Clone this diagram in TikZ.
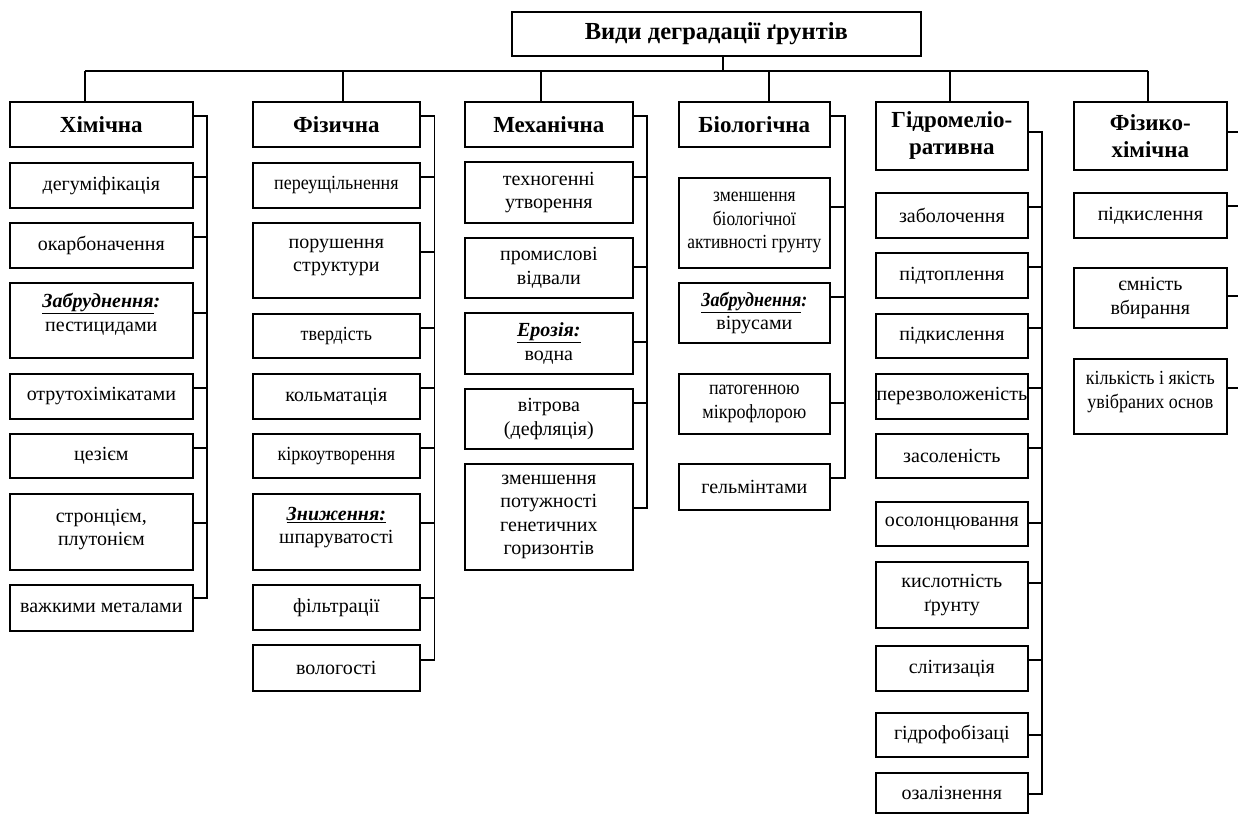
\documentclass[tikz,border=0pt]{standalone}
\usepackage{fontspec}
\setmainfont{Liberation Serif}
\newfontfamily\cond[FakeStretch=0.9]{Liberation Serif}
\newfontfamily\condb[FakeStretch=0.87]{Liberation Serif}
\newcommand\uln[1]{\underline{\textbf{\textit{#1}}}}
\tikzset{
  bx/.style={draw, line width=1.7pt, anchor=north west, inner sep=0pt, align=center,
    font=\fontsize{20}{23.5}\selectfont},
  cat/.style={bx, font=\fontsize{23}{27}\selectfont\bfseries},
  ttl/.style={bx, font=\fontsize{24.5}{28}\selectfont\bfseries},
  ln/.style={line width=1.7pt},
}
\begin{document}
\begin{tikzpicture}[x=1pt,y=-1pt]
\useasboundingbox (0,0) rectangle (1238,816);
% top
\node[ttl, minimum width=409, minimum height=44] (top) at (511,11) {Види деградації ґрунтів};
\coordinate (bus) at (0,71);
% categories
\node[cat, minimum width=183, minimum height=45] (c1) at (9,101) {Хімічна};
\node[cat, minimum width=167, minimum height=45] (c2) at (252,101) {Фізична};
\node[cat, minimum width=168, minimum height=45] (c3) at (464,101) {Механічна};
\node[cat, minimum width=151, minimum height=45] (c4) at (678,101) {Біологічна};
\node[cat, minimum width=152, minimum height=68] (c5) at (875,101) {Гідромеліо-\\ративна};
\node[cat, minimum width=153, minimum height=68] (c6) at (1073,101) {Фізико-\\хімічна};
% bus
\draw[ln] (top.south -| 723,0) -- (723,71);
\draw[ln] (85,71) -- (1148,71);
\draw[ln] (bus -| 85,0) -- (c1.north -| 85,0);
\draw[ln] (bus -| 343,0) -- (c2.north -| 343,0);
\draw[ln] (bus -| 541,0) -- (c3.north -| 541,0);
\draw[ln] (bus -| 769,0) -- (c4.north -| 769,0);
\draw[ln] (bus -| 950,0) -- (c5.north -| 950,0);
\draw[ln] (bus -| 1148,0) -- (c6.north -| 1148,0);
% column 1
\coordinate (T1) at (207,0);
\node[bx, minimum width=183, minimum height=45] (a1) at (9,162) {дегуміфікація};
\node[bx, minimum width=183, minimum height=45] (a2) at (9,222) {окарбоначення};
\node[bx, minimum width=183, minimum height=75] (a3) at (9,282) {\uln{Забруднення}\textbf{\textit{:}}\\пестицидами\\[-7pt]};
\node[bx, minimum width=183, minimum height=45] (a4) at (9,373) {отрутохімікатами};
\node[bx, minimum width=183, minimum height=44] (a5) at (9,433) {цезієм};
\node[bx, minimum width=183, minimum height=76] (a6) at (9,493) {стронцієм,\\плутонієм\\[-15pt]};
\node[bx, minimum width=183, minimum height=46] (a7) at (9,584) {важкими металами};
\draw[ln] (c1.east |- 0,116) -| (T1 |- 0,598) -- (a7.east |- 0,598);
\draw[ln] (a1.east |- 0,177) -- (T1 |- 0,177);
\draw[ln] (a2.east |- 0,237) -- (T1 |- 0,237);
\draw[ln] (a3.east |- 0,313) -- (T1 |- 0,313);
\draw[ln] (a4.east |- 0,388) -- (T1 |- 0,388);
\draw[ln] (a5.east |- 0,448) -- (T1 |- 0,448);
\draw[ln] (a6.east |- 0,523) -- (T1 |- 0,523);
% column 2
\coordinate (T2) at (434.5,0);
\node[bx, minimum width=167, minimum height=45] (b1) at (252,162) {{\cond переущільнення}};
\node[bx, minimum width=167, minimum height=75] (b2) at (252,222) {порушення\\структури\\[-13pt]};
\node[bx, minimum width=167, minimum height=44] (b3) at (252,313) {{\cond твердість}};
\node[bx, minimum width=167, minimum height=45] (b4) at (252,373) {кольматація};
\node[bx, minimum width=167, minimum height=44] (b5) at (252,433) {{\cond кіркоутворення}};
\node[bx, minimum width=167, minimum height=76] (b6) at (252,493) {\uln{Зниження:}\\шпаруватості\\[-11pt]};
\node[bx, minimum width=167, minimum height=45] (b7) at (252,584) {фільтрації};
\node[bx, minimum width=167, minimum height=46] (b8) at (252,644) {вологості};
\draw[ln] (c2.east |- 0,116) -| (T2 |- 0,660) -- (b8.east |- 0,660);
\draw[ln] (b1.east |- 0,177) -- (T2 |- 0,177);
\draw[ln] (b2.east |- 0,252) -- (T2 |- 0,252);
\draw[ln] (b3.east |- 0,328) -- (T2 |- 0,328);
\draw[ln] (b4.east |- 0,388) -- (T2 |- 0,388);
\draw[ln] (b5.east |- 0,448) -- (T2 |- 0,448);
\draw[ln] (b6.east |- 0,523) -- (T2 |- 0,523);
\draw[ln] (b7.east |- 0,598) -- (T2 |- 0,598);
% column 3
\coordinate (T3) at (647,0);
\node[bx, minimum width=168, minimum height=61] (m1) at (464,161) {техногенні\\утворення};
\node[bx, minimum width=168, minimum height=60] (m2) at (464,237) {промислові\\відвали};
\node[bx, minimum width=168, minimum height=61] (m3) at (464,312) {\uln{Ерозія:}\\водна};
\node[bx, minimum width=168, minimum height=60] (m4) at (464,388) {вітрова\\(дефляція)};
\node[bx, minimum width=168, minimum height=106] (m5) at (464,463) {зменшення\\потужності\\генетичних\\горизонтів};
\draw[ln] (c3.east |- 0,116) -| (T3 |- 0,508) -- (m5.east |- 0,508);
\draw[ln] (m1.east |- 0,177) -- (T3 |- 0,177);
\draw[ln] (m2.east |- 0,267) -- (T3 |- 0,267);
\draw[ln] (m3.east |- 0,342) -- (T3 |- 0,342);
\draw[ln] (m4.east |- 0,403) -- (T3 |- 0,403);
% column 4
\coordinate (T4) at (845,0);
\node[bx, minimum width=151, minimum height=90] (d1) at (678,177) {\condb зменшення\\\condb біологічної\\\condb активності грунту};
\node[bx, minimum width=151, minimum height=60] (d2) at (678,282) {{\cond\uln{Забруднення}\textbf{\textit{:}}}\\вірусами};
\node[bx, minimum width=151, minimum height=60] (d3) at (678,373) {\cond патогенною\\\cond мікрофлорою};
\node[bx, minimum width=151, minimum height=46] (d4) at (678,463) {гельмінтами};
\draw[ln] (c4.east |- 0,116) -| (T4 |- 0,478) -- (d4.east |- 0,478);
\draw[ln] (d1.east |- 0,207) -- (T4 |- 0,207);
\draw[ln] (d2.east |- 0,297) -- (T4 |- 0,297);
\draw[ln] (d3.east |- 0,403) -- (T4 |- 0,403);
% column 5
\coordinate (T5) at (1042,0);
\node[bx, minimum width=152, minimum height=45] (e1) at (875,192) {заболочення};
\node[bx, minimum width=152, minimum height=45] (e2) at (875,252) {підтоплення};
\node[bx, minimum width=152, minimum height=44] (e3) at (875,313) {підкислення};
\node[bx, minimum width=152, minimum height=45] (e4) at (875,373) {перезволоженість};
\node[bx, minimum width=152, minimum height=44] (e5) at (875,433) {засоленість};
\node[bx, minimum width=152, minimum height=44] (e6) at (875,501) {осолонцювання};
\node[bx, minimum width=152, minimum height=66] (e7) at (875,561) {кислотність\\ґрунту};
\node[bx, minimum width=152, minimum height=45] (e8) at (875,645) {слітизація};
\node[bx, minimum width=152, minimum height=44] (e9) at (875,712) {гідрофобізаці};
\node[bx, minimum width=152, minimum height=40] (e10) at (875,772) {озалізнення};
\draw[ln] (c5.east |- 0,132) -| (T5 |- 0,794) -- (e10.east |- 0,794);
\draw[ln] (e1.east |- 0,207) -- (T5 |- 0,207);
\draw[ln] (e2.east |- 0,267) -- (T5 |- 0,267);
\draw[ln] (e3.east |- 0,328) -- (T5 |- 0,328);
\draw[ln] (e4.east |- 0,388) -- (T5 |- 0,388);
\draw[ln] (e5.east |- 0,448) -- (T5 |- 0,448);
\draw[ln] (e6.east |- 0,523) -- (T5 |- 0,523);
\draw[ln] (e7.east |- 0,583) -- (T5 |- 0,583);
\draw[ln] (e8.east |- 0,660) -- (T5 |- 0,660);
\draw[ln] (e9.east |- 0,735) -- (T5 |- 0,735);
% column 6
\coordinate (T6) at (1245,0);
\node[bx, minimum width=153, minimum height=45] (f1) at (1073,192) {підкислення};
\node[bx, minimum width=153, minimum height=60] (f2) at (1073,267) {ємність\\вбирання};
\node[bx, minimum width=153, minimum height=75] (f3) at (1073,358) {{\cond кількість і якість}\\{\cond увібраних основ}\\[-11pt]};
\draw[ln] (c6.east |- 0,132) -- (T6 |- 0,132);
\draw[ln] (f1.east |- 0,206) -- (T6 |- 0,206);
\draw[ln] (f2.east |- 0,296) -- (T6 |- 0,296);
\draw[ln] (f3.east |- 0,388) -- (T6 |- 0,388);
\end{tikzpicture}
\end{document}
